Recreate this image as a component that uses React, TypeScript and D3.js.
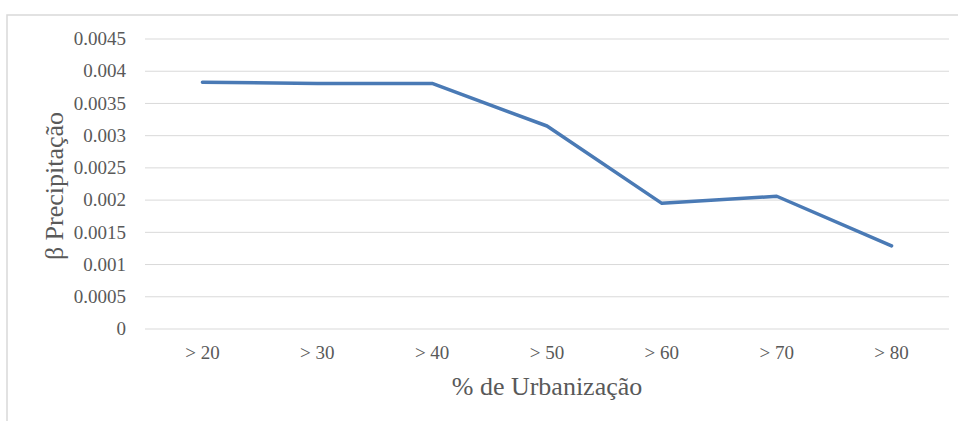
import React from "react";
import * as d3 from "d3";

const categories = ["> 20", "> 30", "> 40", "> 50", "> 60", "> 70", "> 80"];
const values = [0.00383, 0.00381, 0.00381, 0.00315, 0.00195, 0.00206, 0.00129];
const yTicks = [0, 0.0005, 0.001, 0.0015, 0.002, 0.0025, 0.003, 0.0035, 0.004, 0.0045];
const yTickLabels = ["0", "0.0005", "0.001", "0.0015", "0.002", "0.0025", "0.003", "0.0035", "0.004", "0.0045"];
const xTitle = "% de Urbanização";
const yTitle = "β Precipitação";

const W = 958;
const H = 421;
const left = 145;
const right = 949;
const top = 39;
const bottom = 329;
const font = "Liberation Serif, Tinos, Times New Roman, DejaVu Serif, serif";
const textColor = "#595959";

export default function App() {
  const x = d3.scaleBand<string>().domain(categories).range([left, right]);
  const y = d3.scaleLinear().domain([0, 0.0045]).range([bottom, top]);
  const line = d3
    .line<number>()
    .x((_, i) => (x(categories[i]) as number) + x.bandwidth() / 2)
    .y((d) => y(d));

  return (
    <svg
      width={W}
      height={H}
      style={{ position: "absolute", left: 0, top: 0, background: "#fff", fontFamily: font }}
    >
      <rect x={0} y={0} width={W} height={H} fill="#fff" />
      <rect x={7} y={15} width={W + 20} height={H + 20} fill="#fff" stroke="#d9d9d9" strokeWidth={1.5} />
      {yTicks.map((t, i) => (
        <g key={i}>
          <line x1={left} x2={right} y1={y(t)} y2={y(t)} stroke="#d9d9d9" strokeWidth={1} />
          <text
            x={126}
            y={y(t)}
            dy="0.33em"
            textAnchor="end"
            style={{ fontFamily: font, fontSize: 19 }}
            fill={textColor}
          >
            {yTickLabels[i]}
          </text>
        </g>
      ))}
      {categories.map((c) => (
        <text
          key={c}
          x={(x(c) as number) + x.bandwidth() / 2}
          y={359}
          textAnchor="middle"
          style={{ fontFamily: font, fontSize: 19 }}
          fill={textColor}
        >
          {c}
        </text>
      ))}
      <path d={line(values) || ""} fill="none" stroke="#4a7ab5" strokeWidth={3.5} strokeLinejoin="round" strokeLinecap="round" />
      <text
        x={(left + right) / 2}
        y={395}
        textAnchor="middle"
        style={{ fontFamily: font, fontSize: 26 }}
        fill={textColor}
      >
        {xTitle}
      </text>
      <text
        transform={`translate(63, ${(top + bottom) / 2 + 2}) rotate(-90)`}
        textAnchor="middle"
        style={{ fontFamily: font, fontSize: 26 }}
        fill={textColor}
      >
        {yTitle}
      </text>
    </svg>
  );
}
